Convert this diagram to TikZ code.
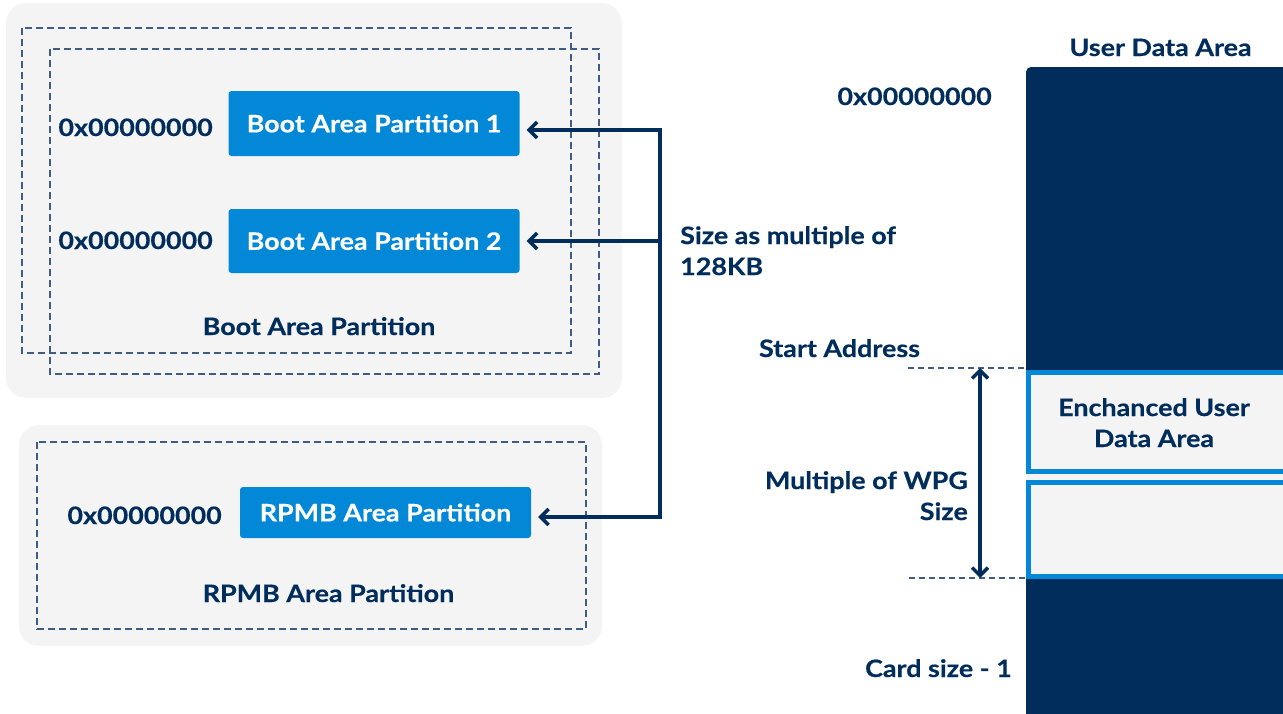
\documentclass[tikz,border=0pt]{standalone}
\usepackage{fontspec}
\setmainfont{Lato}[FakeStretch=1.12,BoldFeatures={FakeBold=0.4}]
\usetikzlibrary{arrows.meta}
\definecolor{navy}{HTML}{002D5C}
\definecolor{pblue}{HTML}{0288D6}
\definecolor{pgray}{HTML}{F4F4F4}
\definecolor{dashc}{HTML}{3E5C84}
\begin{document}
\begin{tikzpicture}[x=1pt,y=-1pt,
  every node/.style={font=\fontsize{24}{31}\selectfont\bfseries, text=navy, inner sep=0pt},
  panel/.style={fill=pgray, rounded corners=20pt},
  dbox/.style={draw=dashc, line width=1.2pt, dash pattern=on 7pt off 4pt},
  thin dash/.style={draw=dashc, line width=1.2pt, dash pattern=on 6pt off 4pt},
  pbox/.style={fill=pblue, rounded corners=3pt, text=white, minimum width=291pt},
  conn/.style={draw=navy, line width=3.5pt, -{Straight Barb[length=8pt,width=16pt]}},
  dconn/.style={draw=navy, line width=3.5pt, {Straight Barb[length=8pt,width=16pt]}-{Straight Barb[length=8pt,width=16pt]}},
  eud/.style={draw=pblue, line width=5pt}
]
\useasboundingbox (0,0) rectangle (1283,713);

% left panels
\fill[panel] (6,3) rectangle (622,398);
\fill[panel] (19,425) rectangle (602,646);
\draw[dbox] (22,28) rectangle (571,353);
\draw[dbox] (50,49) rectangle (599,374);
\draw[dbox] (37,442) rectangle (586,629);

% partition boxes
\node[pbox, minimum height=65pt] (b1) at (374,123.5) {Boot Area Partition 1};
\node[pbox, minimum height=64pt] (b2) at (374,241) {Boot Area Partition 2};
\node[pbox, minimum height=51pt] (rp) at (385.5,512.5) {RPMB Area Partition};

\node[anchor=base east] (a1) at (213,136) {0x00000000};
\node[anchor=base east] (a2) at (213,249) {0x00000000};
\node[anchor=base east] (a3) at (222,524) {0x00000000};
\node[anchor=base] (bap) at (319,335) {Boot Area Partition};
\node[anchor=base] (rap) at (328.5,602) {RPMB Area Partition};

% connectors
\coordinate (ct) at (660,130);
\coordinate (cm) at (660,241);
\coordinate (cb) at (660,517);
\draw[navy, line width=3.5pt, line cap=rect] (ct) -- (cb);
\draw[conn, shorten >=7pt] (ct) -- (ct -| b1.east);
\draw[conn, shorten >=7pt] (cm) -- (cm -| b2.east);
\draw[conn, shorten >=7pt] (cb) -- (cb -| rp.east);
\node[anchor=north west, align=left] (size) at (680,226) {Size as multiple of\\128KB};

% user data area column
\fill[navy, rounded corners=5pt] (1026,67) rectangle (1300,730);
\coordinate (colL1) at (1026,368);
\coordinate (colL2) at (1026,578);
\fill[pgray] (1026,370) rectangle (1300,579);
\draw[eud] (1028.5,372.5) rectangle (1300,471.5);
\draw[eud] (1028.5,482.5) rectangle (1300,576.5);
\node[anchor=base] (uda) at (1160.5,56) {User Data Area};
\node[anchor=base east] (a4) at (992,105) {0x00000000};
\node[anchor=base] (sad) at (839.5,357) {Start Address};
\node[anchor=base east] (cs) at (1012,677) {Card size - 1};
\node[anchor=north, align=center] (eu) at (1154,398) {Enchanced User\\Data Area};
\node[anchor=north east, align=right] (wpg) at (968,471) {Multiple of WPG\\Size};

\coordinate (d1) at (908,368);
\coordinate (d2) at (909,578);
\draw[thin dash] (d1) -- (colL1);
\draw[thin dash] (d2) -- (colL2);
\coordinate (sa) at (980,368);
\coordinate (ea) at (980,578);
\draw[dconn] (sa) -- (ea);
\end{tikzpicture}
\end{document}
